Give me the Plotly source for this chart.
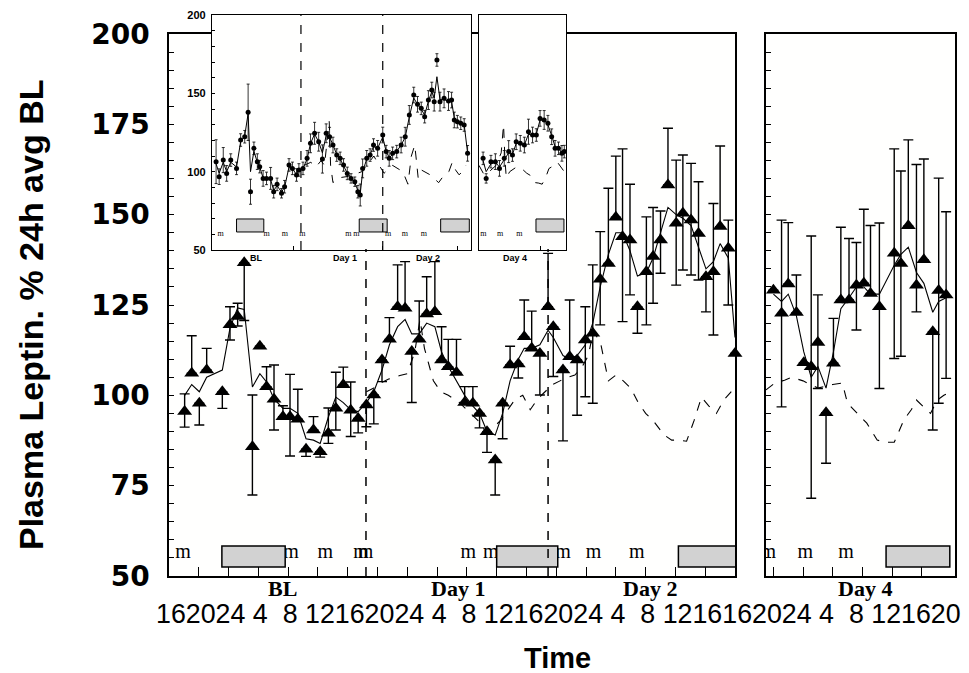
import plotly.graph_objects as go

# The page body adds an 8 px margin, so the figure is placed 8 px in from the window corner.
OFF = 8
W, H = 969, 673

# ---------------- main panel 1 (BL, Day 1, Day 2) : hours from panel start ----------------
p1_hours = [2.1, 3.05, 4.07, 5.06, 7.16, 8.19, 9.22, 10.1, 11.2, 12.2, 13.1, 14.1, 15.3, 16.25,
            17.3, 18.4, 19.4, 20.3, 21.4, 22.4, 23.4, 24.4, 25.4,
            26.5, 27.5, 28.6, 29.6, 30.7, 31.7, 32.6, 33.6, 34.6, 35.7, 36.6, 37.5, 38.6, 39.7,
            40.8, 41.7, 42.7, 43.8, 44.8, 45.8, 46.9, 47.7, 48.7, 49.8, 50.9, 51.6,
            52.9, 53.8, 54.8, 55.9, 56.9, 57.9, 59.0, 60.0, 60.9, 61.9, 62.9, 64.1, 65.0, 66.0,
            67.0, 68.1, 69.0, 70.1, 71.1, 72.1, 73.1, 74.0, 75.1, 76.0]
p1_values = [95.5, 106.1, 97.8, 107.0, 101.0, 119.5, 121.8, 136.7, 85.8, 113.6, 102.4, 98.9, 94.1, 94.1,
             93.4, 85.1, 90.4, 84.4, 89.5, 96.4, 102.9, 95.9, 93.6,
             97.3, 100.1, 109.8, 115.5, 124.5, 124.1, 112.1, 115.5, 122.5, 123.1, 109.8, 107.9, 106.3, 98.0,
             97.8, 95.0, 89.9, 82.1, 97.8, 108.4, 108.7, 116.2, 113.0, 111.6, 124.5, 119.0,
             107.0, 110.7, 109.8, 115.3, 117.2, 132.1, 136.5, 149.3, 143.9, 143.0, 124.5, 134.2, 138.4, 143.0,
             158.2, 147.6, 150.4, 148.5, 144.8, 132.8, 134.2, 146.7, 140.7, 111.6]
p1_err_up = [4.9, 10.4, 0, 6.0, 0, 5.0, 3.7, 0, 14.3, 0, 5.5, 9.5, 3.0, 11.7,
             8.3, 0, 3.7, 0, 7.0, 10.0, 4.9, 7.8, 0,
             0, 0, 0, 6.0, 11.6, 12.9, 0, 10.6, 10.3, 13.9, 9.2, 7.6, 9.2, 4.4,
             4.6, 0, 0, 0, 0, 5.2, 0, 10.2, 10.3, 0, 14.8, 0,
             0, 15.7, 0, 9.2, 18.9, 13.2, 20.8, 16.9, 24.3, 15.4, 0, 15.2, 13.6, 8.0,
             15.7, 17.5, 16.1, 15.7, 14.3, 0, 18.9, 22.3, 7.8, 0]
p1_err_dn = [4.3, 0, 6.0, 0, 4.6, 4.2, 2.6, 16.0, 13.4, 0, 0, 8.5, 0, 10.9,
             0, 2.0, 0, 1.5, 2.8, 6.0, 0, 7.3, 4.0,
             6.0, 8.0, 6.0, 0, 0, 0, 14.1, 0, 0, 0, 0, 0, 0, 0,
             0, 4.0, 5.7, 9.7, 9.8, 0, 3.9, 0, 0, 11.5, 0, 13.8,
             19.6, 0, 15.3, 15.7, 19.4, 12.6, 0, 0, 23.5, 15.2, 7.3, 14.7, 12.9, 9.2,
             0, 17.1, 15.7, 15.2, 12.9, 9.7, 17.5, 0, 15.7, 0]
p1_line_values = [100.0, 103.0, 101.0, 105.0, 107.0, 118.6, 124.2, 123.8, 102.3, 106.0, 103.7, 99.0, 96.4, 96.4,
                  95.0, 88.0, 87.6, 86.7, 94.0, 99.5, 98.0, 96.0, 95.5,
                  98.0, 101.0, 107.0, 114.0, 119.0, 121.0, 117.0, 117.0, 120.0, 119.0, 112.0, 108.0, 104.0, 100.0,
                  97.0, 95.0, 90.0, 89.0, 95.0, 104.0, 110.0, 113.0, 113.0, 114.0, 118.0, 116.0,
                  111.0, 110.0, 111.0, 114.0, 120.0, 130.0, 139.0, 145.0, 145.0, 140.0, 133.0, 134.0, 138.0, 145.0,
                  152.0, 150.0, 149.0, 147.0, 141.0, 135.0, 137.0, 142.0, 138.0, 116.0]
p1_dash_hours = [26.5, 27.5, 28.5, 29.5, 31.0, 32.0, 33.0, 33.7, 34.3, 35.5, 36.5, 37.5, 39.0, 40.5,
                 41.5, 42.5, 43.5, 44.5, 45.5, 46.5, 47.5, 48.5, 49.5, 50.5, 51.5, 52.5, 53.5, 54.5,
                 55.5, 56.3, 57.0, 58.0, 59.0, 60.0, 61.0, 62.0, 63.0, 64.0, 65.0, 66.5, 67.5, 68.5,
                 69.5, 70.5, 71.5, 72.5, 73.5, 74.5, 75.5]
p1_dash_values = [101, 102, 103.5, 104.5, 105.5, 106, 112, 121, 113, 104, 101, 100, 98, 95,
                  93, 90, 91, 93, 96, 99, 100, 96, 99, 101, 103, 104, 105, 105.6,
                  108, 111, 118, 114, 104, 105.6, 104, 102, 98, 95, 93, 89, 87.6, 87.6,
                  87.3, 93, 99.5, 97, 95, 98.7, 101]

# ---------------- main panel 2 (Day 4) ----------------
p2_hours = [1.0, 2.1, 3.0, 4.1, 5.1, 6.1, 7.0, 8.1, 9.1, 10.1, 11.2, 12.2, 13.2, 14.1, 15.3,
            17.3, 18.2, 19.2, 20.3, 21.3, 22.5, 23.3, 24.3]
p2_values = [129.1, 122.7, 130.8, 122.9, 109.0, 107.9, 114.6, 95.2, 108.9, 126.4, 126.4, 130.5, 131.0,
             128.2, 124.5, 139.3, 136.5, 146.9, 130.5, 137.5, 117.6, 129.0, 127.8]
p2_err_up = [0, 25.8, 17.0, 10.4, 0, 36.2, 13.2, 0, 12.4, 20.1, 17.0, 11.8, 20.5, 18.8, 23.2,
             28.9, 25.6, 23.8, 33.4, 27.9, 0, 31.1, 23.0]
p2_err_dn = [0, 25.9, 0, 0, 0, 36.4, 12.7, 14.0, 0, 0, 0, 12.4, 0, 0, 22.6,
             29.1, 25.7, 0, 7.4, 0, 27.2, 31.2, 23.1]
p2_line_values = [128, 126, 128, 122, 112, 105, 108, 102, 112, 124, 127, 130, 130, 128, 128,
                  136, 139, 141, 134, 131, 123, 126, 127]
p2_dash_hours = [0.0, 1.2, 2.5, 3.5, 5.0, 7.0, 9.0, 10.3, 11.0, 12.3, 13.6, 15.0, 16.2, 17.3,
                 18.6, 19.6, 20.3, 21.3, 22.2, 23.1, 24.0, 25.0]
p2_dash_values = [101.5, 103.4, 104.2, 105, 104, 102, 103, 103.4, 97.8, 95, 92.3, 87.6, 87, 87,
                  93.2, 96, 98.7, 96.7, 95, 98.7, 100, 101]

# ---------------- inset panel 1 ----------------
in1_hours = [1.2, 2.1, 3.3, 4.3, 5.5, 7.2, 8.4, 9.6, 10.6, 11.3, 12.3, 13.3, 14.0, 15.0, 16.0, 17.2,
             18.1, 19.1, 20.4, 21.3, 22.6, 23.6, 24.8, 25.5, 26.7, 27.9, 28.9, 30.1, 31.3, 32.4,
             33.5, 34.5, 35.5, 36.6, 37.6, 38.6, 39.7, 40.8, 41.9, 42.8, 43.5, 44.2, 45.4, 46.4,
             47.4, 48.6, 50.1, 51.1, 52.0, 53.0, 54.2, 55.5, 56.7, 57.9, 59.2, 60.3, 61.4, 62.4,
             63.5, 64.5, 65.2, 66.0, 66.9, 68.1, 69.4, 70.3, 71.1, 72.0, 73.0, 74.0, 75.0]
in1_values = [106.4, 96.8, 107.4, 98.9, 107.4, 102.1, 120.2, 122.3, 137.9, 87.2, 114.9, 106.4, 103.2,
              95.7, 95.7, 95.7, 87.2, 91.9, 86.2, 90.4, 104.3, 102.1, 97.9, 101.1, 102.1, 108.5,
              118.1, 124.5, 119.1, 108.1, 124.5, 122.3, 117.0, 110.6, 108.5, 104.3, 98.9, 95.7,
              93.6, 87.2, 85.1, 102.1, 108.5, 110.6, 117.0, 114.9, 123.4, 112.8, 108.5, 111.7,
              112.8, 117.0, 122.3, 136.2, 148.9, 143.0, 140.4, 135.1, 145.7, 152.1, 144.7, 171.3,
              144.7, 146.8, 145.1, 145.7, 133.0, 131.9, 130.9, 129.8, 111.7]
in1_err = [14, 5, 8, 5, 4, 4, 4, 4, 18, 8, 4, 5, 4, 5, 4, 7, 4, 4, 3, 4, 4, 4, 4, 4, 4, 5, 6, 7, 6, 9,
           6, 6, 5, 4, 4, 4, 4, 3, 3, 4, 7, 6, 5, 4, 4, 5, 5, 4, 5, 4, 4, 5, 6, 6, 5, 5, 4, 4, 6, 5,
           6, 4, 6, 6, 6, 5, 5, 4, 4, 4, 5]
in1_line_values = [105, 99, 106, 100, 106, 103, 119, 123, 137, 100, 113, 106, 103, 96, 96, 95, 88, 91,
                   87, 90, 103, 102, 98, 101, 102, 108, 118, 124, 119, 112, 123, 122, 117, 111, 108,
                   104, 99, 96, 93, 88, 86, 100, 108, 111, 116, 115, 122, 113, 109, 111, 113, 117,
                   122, 135, 147, 143, 140, 136, 145, 151, 147, 160.6, 146, 146, 145, 145, 134, 132,
                   131, 130, 112]
in1_dash_hours = [27, 29, 30.5, 32, 33, 33.8, 34.4, 34.8, 35.5, 37, 40, 44, 45.5, 46.5, 47.5, 48.5,
                  49.5, 50.5, 53, 56, 57.5, 58.5, 59.5, 60.5, 61.5, 62.5, 64, 65.5, 66.5, 67.5, 68.5,
                  69.5, 70.5, 71.5, 72.5, 73.5, 74.5]
in1_dash_values = [104, 106, 103, 107, 104, 122, 132, 104, 93, 96, 97, 100, 104, 107, 110, 106, 102,
                   99, 104, 100, 92, 110, 117, 96, 101, 100, 98, 95, 93, 96, 98, 100, 106, 101, 98,
                   100, 104]

# ---------------- inset panel 2 ----------------
in2_hours = [1.2, 2.1, 3.5, 4.8, 6.0, 7.4, 8.7, 9.8, 10.9, 12.1, 13.3, 14.5, 15.7, 16.8, 17.9, 19.1,
             20.2, 21.3, 22.3, 23.3, 24.3, 25.0]
in2_values = [108.5, 95.7, 106.4, 106.4, 102.1, 108.5, 112.8, 110.6, 119.1, 118.1, 117.0, 125.5,
              123.4, 123.4, 134.0, 133.0, 130.9, 122.3, 114.9, 114.9, 111.7, 112.8]
in2_err = [4, 3, 4, 5, 5, 5, 7, 4, 5, 5, 5, 8, 5, 4, 5, 6, 5, 5, 5, 4, 5, 4]
in2_line_values = [107, 100, 105, 106, 103, 108, 112, 111, 118, 118, 117, 124, 123, 124, 133, 133,
                   130, 123, 116, 115, 112, 112]
in2_dash_hours = [0, 1.5, 3, 5, 6.5, 7.2, 7.6, 8, 9, 11, 12.5, 14, 15.5, 16.5, 17.5, 18.5, 19.5,
                  20.5, 22, 23, 24, 25]
in2_dash_values = [104, 98, 100, 104, 112, 130, 108, 96, 100, 103, 102, 99, 97, 93, 92.7, 92, 96,
                   102, 104, 106, 103, 100]

# ---------------- labels / markers data ----------------
x_tick_labels = ["16", "20", "24", "4", "8", "12",
                 "16", "20", "24", "4", "8", "12",
                 "16", "20", "24", "4", "8", "12", "16",
                 "16", "20", "24", "4", "8", "12", "16", "20"]
main_ticks_p1 = [4, 8, 12, 16, 20, 24, 28, 32, 36, 40, 44, 48, 52, 56, 60, 64, 68, 72]
main_ticks_p2 = [1, 5, 9, 13, 17, 21]
meal_hours_p1 = [1.9, 16.4, 21.0, 25.8, 26.4, 40.2, 43.2, 52.9, 57.0, 62.8]
meal_hours_p2 = [0.3, 5.3, 10.8]
sleep_p1 = [(7.1, 15.6), (44.0, 52.2), (68.4, 76.8)]
sleep_p2 = [(16.2, 24.8)]
day_marks_p1 = [26.45, 50.9]
in_meal_p1 = [2.5, 16.0, 21.4, 26.5, 40.0, 42.4, 51.7, 56.6, 62.2]
in_meal_p2 = [1.3, 6.2, 11.8]
in_sleep_p1 = [(7.2, 15.2), (43.2, 51.4), (67.1, 75.5)]
in_sleep_p2 = [(16.7, 24.9)]
in_day_marks = [26.1, 50.1]
day_labels_p1 = [("BL", 15.3), ("Day 1", 38.8), ("Day 2", 64.6)]
day_labels_p2 = [("Day 4", 13.4)]
in_day_labels_p1 = [("BL", 13.2), ("Day 1", 39.0), ("Day 2", 63.3)]
in_day_labels_p2 = [("Day 4", 10.6)]


def px(xp):
    """window x pixel -> paper fraction"""
    return (xp - OFF) / W


def py(yp):
    """window y pixel -> paper fraction"""
    return 1 - (yp - OFF) / H


def dom_x(a, b):
    return [px(a), px(b)]


def dom_y(top, bottom):
    return [py(bottom), py(top)]


SANS = "Liberation Sans, Arial, sans-serif"
SERIF = "Liberation Serif, Times New Roman, serif"

fig = go.Figure()


def add_series(xa, ya, hours, values, up, dn, line_h, line_v, dash_h, dash_v, marker, msize,
               ethick, ewidth, lw):
    fig.add_trace(go.Scatter(x=dash_h, y=dash_v, mode="lines", xaxis=xa, yaxis=ya,
                             line=dict(color="black", width=lw, dash="dash"),
                             showlegend=False, hoverinfo="skip"))
    fig.add_trace(go.Scatter(x=line_h, y=line_v, mode="lines", xaxis=xa, yaxis=ya,
                             line=dict(color="black", width=lw), showlegend=False,
                             hoverinfo="skip"))
    fig.add_trace(go.Scatter(x=hours, y=values, mode="markers", xaxis=xa, yaxis=ya,
                             marker=dict(symbol=marker, size=msize, color="black"),
                             error_y=dict(type="data", array=up, arrayminus=dn, symmetric=False,
                                          color="black", thickness=ethick, width=ewidth),
                             cliponaxis=False, showlegend=False))


add_series("x", "y", p1_hours, p1_values, p1_err_up, p1_err_dn, p1_hours, p1_line_values,
           p1_dash_hours, p1_dash_values, "triangle-up", 13, 1.4, 5, 1.1)
add_series("x2", "y2", p2_hours, p2_values, p2_err_up, p2_err_dn, p2_hours, p2_line_values,
           p2_dash_hours, p2_dash_values, "triangle-up", 13, 1.4, 5, 1.1)
add_series("x3", "y3", in1_hours, in1_values, in1_err, in1_err, in1_hours, in1_line_values,
           in1_dash_hours, in1_dash_values, "circle", 5, 0.8, 1.5, 1.0)
add_series("x4", "y4", in2_hours, in2_values, in2_err, in2_err, in2_hours, in2_line_values,
           in2_dash_hours, in2_dash_values, "circle", 5, 0.8, 1.5, 1.0)

# meal markers "m"
for xa, ya, hrs, yv, size in [("x", "y", meal_hours_p1, 56.4, 20), ("x2", "y2", meal_hours_p2, 56.4, 20),
                              ("x3", "y3", in_meal_p1, 60.5, 8), ("x4", "y4", in_meal_p2, 60.5, 8)]:
    fig.add_trace(go.Scatter(x=hrs, y=[yv] * len(hrs), mode="text", text=["m"] * len(hrs),
                             textfont=dict(family=SERIF, size=size, color="black"),
                             xaxis=xa, yaxis=ya, cliponaxis=True, showlegend=False,
                             hoverinfo="skip"))

shapes = []
for xr, yr, boxes, y0, y1, lw in [("x", "y", sleep_p1, 52.5, 58.3, 1.5), ("x2", "y2", sleep_p2, 52.5, 58.3, 1.5),
                                  ("x3", "y3", in_sleep_p1, 61.5, 69.8, 1), ("x4", "y4", in_sleep_p2, 61.5, 69.8, 1)]:
    for a, b in boxes:
        shapes.append(dict(type="rect", xref=xr, yref=yr, x0=a, x1=b, y0=y0, y1=y1,
                           fillcolor="#d2d2d2", line=dict(color="black", width=lw), layer="above"))
for d in day_marks_p1:
    shapes.append(dict(type="line", xref="x", yref="y", x0=d, x1=d, y0=50, y1=140.5,
                       line=dict(color="black", width=1.5, dash="dash")))
for d in in_day_marks:
    shapes.append(dict(type="line", xref="x3", yref="y3", x0=d, x1=d, y0=50, y1=200,
                       line=dict(color="black", width=1.2, dash="dash")))


def tick_string(labels):
    s = labels[0]
    for prev, cur in zip(labels, labels[1:]):
        if len(prev) == 1 and len(cur) == 1:
            sep = "\u00a0\u00a0"
        elif len(prev) == 1 or len(cur) == 1:
            sep = "\u00a0"
        else:
            sep = ""
        s += sep + cur
    return s


annotations = [
    dict(text="Plasma Leptin. % 24h avg BL", x=px(31), y=py(315), xref="paper", yref="paper",
         xanchor="center", yanchor="middle",
         textangle=-90, showarrow=False, font=dict(family=SANS, size=34, color="black", weight="bold")),
    dict(text="Time", x=px(557), y=py(658), xref="paper", yref="paper", showarrow=False,
         xanchor="center", yanchor="middle",
         font=dict(family=SANS, size=29, color="black", weight="bold")),
    dict(text=tick_string(x_tick_labels), x=px(154), y=py(614), xref="paper", yref="paper",
         xanchor="left", yanchor="middle", showarrow=False,
         font=dict(family=SANS, size=26.8, color="black")),
]
for xr, labs in [("x", day_labels_p1), ("x2", day_labels_p2)]:
    for t, hx in labs:
        annotations.append(dict(text=t, x=hx, xref=xr, y=py(588), yref="paper", showarrow=False,
                                xanchor="center", yanchor="middle",
                                font=dict(family=SERIF, size=22, color="black", weight="bold")))
for xr, labs in [("x3", in_day_labels_p1), ("x4", in_day_labels_p2)]:
    for t, hx in labs:
        annotations.append(dict(text=t, x=hx, xref=xr, y=py(258), yref="paper", showarrow=False,
                                xanchor="center", yanchor="middle",
                                font=dict(family=SANS, size=9, color="black", weight="bold")))

axis_common = dict(showgrid=False, zeroline=False, showline=True, linecolor="black", mirror=True,
                   ticks="inside", tickcolor="black", automargin=False)

main_y = dict(axis_common, range=[50, 200], domain=dom_y(34, 576), linewidth=1.5,
              tickvals=[50, 75, 100, 125, 150, 175, 200], ticklen=5, tickwidth=1.2,
              minor=dict(dtick=5, ticks="inside", ticklen=5, tickcolor="black", tickwidth=1.2))
inset_y = dict(axis_common, range=[50, 200], domain=dom_y(15, 250), linewidth=1.2,
               tickvals=[50, 100, 150, 200], ticklen=3, tickwidth=1,
               minor=dict(dtick=10, ticks="inside", ticklen=3, tickcolor="black", tickwidth=1))

fig.update_layout(
    width=W, height=H, margin=dict(l=0, r=0, t=0, b=0, autoexpand=False),
    paper_bgcolor="white", plot_bgcolor="#fffffe", showlegend=False,
    xaxis=dict(axis_common, range=[0, 76], domain=dom_x(169, 735), linewidth=1.5,
               tickvals=main_ticks_p1, ticklen=9, tickwidth=1.2, showticklabels=False),
    yaxis=dict(main_y, anchor="x", ticklabelstandoff=12,
               tickfont=dict(family="DejaVu Sans", size=28, color="black", weight="bold")),
    xaxis2=dict(axis_common, range=[0, 25.5], domain=dom_x(766, 955), linewidth=1.5, anchor="y2",
                tickvals=main_ticks_p2, ticklen=9, tickwidth=1.2, showticklabels=False),
    yaxis2=dict(main_y, anchor="x2", showticklabels=False),
    xaxis3=dict(axis_common, range=[0, 76], domain=dom_x(212, 471), linewidth=1.2, anchor="y3",
                tickvals=[24, 50, 72], ticklen=4, showticklabels=False),
    yaxis3=dict(inset_y, anchor="x3", ticklabelstandoff=3,
                tickfont=dict(family=SANS, size=11, color="black", weight="bold")),
    xaxis4=dict(axis_common, range=[0, 25.5], domain=dom_x(479, 566), linewidth=1.2, anchor="y4",
                tickvals=[18], ticklen=4, showticklabels=False),
    yaxis4=dict(inset_y, anchor="x4", showticklabels=False, ticks="", minor=dict(ticks="")),
    shapes=shapes, annotations=annotations,
)

fig.write_html("out.html")
